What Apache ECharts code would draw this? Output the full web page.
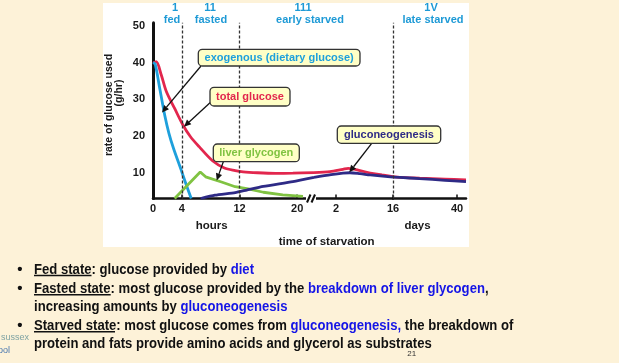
<!DOCTYPE html>
<html><head><meta charset="utf-8">
<script src="https://cdn.jsdelivr.net/npm/echarts@6/dist/echarts.min.js"></script>
<style>html,body{margin:0;padding:0;background:#FDF2D8;}#c{width:619px;height:363px;}</style>
</head><body><div id="c"></div>
<script>
// ---- data ----
const hourTicks = [0, 4, 12, 20];
const dayTicksA = [2];
const dayTicksB = [16, 40];
const yTicks = [10, 20, 30, 40, 50];
const phaseNumerals = ['1', '11', '111', '1V'];
const phaseNames = ['fed', 'fasted', 'early starved', 'late starved'];
const hourBoundaries = [4, 12];
const dayBoundaries = [16];

// [hours, g/hr]
const exogenousHours = [[0,40],[0.3,39.6],[0.93,33],[1.62,25.7],[2.2,20.8],[2.85,16.6],[3.9,10.8],[4.6,6.8],[5.3,3]];
const totalHours = [[0,39.8],[0.45,40.2],[1.15,36.6],[1.85,32.1],[3.0,27.5],[4.15,23.0],[5.2,19.8],[6.4,17.1],[8.3,13.2],[9.9,11.3],[11.4,10.6],[12.5,10.25],[14.5,10.0],[17,9.85],[19.4,9.9],[22.33,10.05]];
const glycogenHours = [[3.0,3],[6.55,10.2],[7.3,8.9],[9.5,7.5],[11.4,6.2],[13.2,5.6],[15.3,4.7],[18,4.0],[20.8,3.6]];
const gluconeoHours = [[6.6,3.0],[8.6,3.9],[11.4,4.6],[13,5.3],[15.3,6.3],[19.4,7.6],[22.33,8.75]];
// [days, g/hr]
const totalDays = [[-3.41,10.05],[0.5,10.3],[3.7,10.95],[5.0,11.2],[7.9,10.6],[10.4,9.9],[13.3,9.4],[16,8.95],[18.6,8.77],[26,8.55],[35.5,8.28],[43.37,8.03]];
const gluconeoDays = [[-3.41,8.75],[0.8,9.5],[3.7,9.9],[5.4,10.0],[7.9,9.75],[10.4,9.4],[16,8.8],[18.6,8.75],[26,8.4],[35.5,7.95],[43.37,7.57]];

// ---- chart ----
const C = {red:'#E2264D', blue:'#1EA0DC', green:'#80C342', navy:'#2E2A86', phase:'#1E9AD6', hl:'#1515E6'};
const FONT = '"Liberation Sans", Arial, sans-serif';
const chart = echarts.init(document.getElementById('c'), null, {renderer:'canvas'});

const gridTop = 22.8, gridH = 175.7;
const grids = [
  {left:153, top:gridTop, width:161, height:gridH},
  {left:314, top:gridTop, width:79, height:gridH},
  {left:393, top:gridTop, width:73, height:gridH}
];
const axLabel = {color:'#1a1a1a', fontWeight:'bold', fontSize:11, fontFamily:FONT, margin:5};
function xAx(gi, min, max, ticks){
  return {type:'value', gridIndex:gi, min, max, splitLine:{show:false},
    axisLine:{show:true, onZero:false, lineStyle:{color:'#111', width:2.5}},
    axisTick:{show:true, inside:true, length:4, customValues:ticks.filter(t=>t>0), lineStyle:{color:'#111', width:1.5}},
    axisLabel:Object.assign({customValues:ticks, showMinLabel:true, showMaxLabel:true}, axLabel)};
}
function yAx(gi, show){
  return {type:'value', gridIndex:gi, min:3, max:50.8, show, splitLine:{show:false},
    axisLine:{show:show, onZero:false, lineStyle:{color:'#111', width:3}},
    axisTick:{show:false},
    axisLabel:Object.assign({customValues:yTicks}, axLabel, {margin:8})};
}
const dashed = {symbol:'none', silent:true, label:{show:false}, lineStyle:{type:[3,2], color:'#333', width:1.3}, animation:false};
function ser(data, color, gi, smooth, extra){
  return Object.assign({type:'line', data, xAxisIndex:gi, yAxisIndex:gi, symbol:'none', smooth, clip:false,
    lineStyle:{color, width:2.8}, z:3}, extra||{});
}
const series = [
  ser(totalHours, C.red, 0, 0.3, {markLine:Object.assign({data:hourBoundaries.map(v=>({xAxis:v}))}, dashed)}),
  ser(exogenousHours, C.blue, 0, 0.25),
  ser(glycogenHours, C.green, 0, false),
  ser(gluconeoHours, C.navy, 0, 0.2),
  ser(totalDays.filter(p=>p[0]<=16), C.red, 1, 0.3),
  ser(gluconeoDays.filter(p=>p[0]<=16), C.navy, 1, 0.3),
  ser(totalDays.filter(p=>p[0]>=16), C.red, 2, 0.3, {markLine:Object.assign({data:dayBoundaries.map(v=>({xAxis:v}))}, dashed)}),
  ser(gluconeoDays.filter(p=>p[0]>=16), C.navy, 2, 0.3)
];

// ---- decorations ----
const g = [];
g.push({type:'rect', z:-10, shape:{x:103, y:3, width:366, height:244}, style:{fill:'#ffffff'}});
function txt(text, x, y, font, fill, extra){
  return Object.assign({type:'text', x, y, z:20, style:{text, x:0, y:0, font, fill, align:'center', verticalAlign:'middle'}}, extra||{});
}
const phaseX = [175, 210, 303, 431], phaseNX = [172, 211, 310, 433];
phaseNumerals.forEach((t,i)=>g.push(txt(t, phaseX[i], 7.5, 'bold 11px '+FONT, C.phase)));
phaseNames.forEach((t,i)=>g.push(txt(t, phaseNX[i], 19.5, 'bold 11px '+FONT, C.phase)));
g.push(txt('rate of glucose used', 109, 105, 'bold 10.5px '+FONT, '#1a1a1a', {rotation:Math.PI/2}));
g.push(txt('(g/hr)', 119, 93, 'bold 10.5px '+FONT, '#1a1a1a', {rotation:Math.PI/2}));
g.push(txt('hours', 211.7, 226, 'bold 11.5px '+FONT, '#1a1a1a'));
g.push(txt('days', 417.5, 226, 'bold 11.5px '+FONT, '#1a1a1a'));
g.push(txt('time of starvation', 326.7, 241.5, 'bold 11.5px '+FONT, '#1a1a1a'));

// axis break
g.push({type:'rect', z:15, shape:{x:306, y:194.5, width:10, height:8}, style:{fill:'#fff'}});
g.push({type:'line', z:16, shape:{x1:307, y1:202.5, x2:310.5, y2:194.5}, style:{stroke:'#111', lineWidth:2}});
g.push({type:'line', z:16, shape:{x1:311.5, y1:202.5, x2:315, y2:194.5}, style:{stroke:'#111', lineWidth:2}});

function arrow(x1,y1,x2,y2){
  const a = Math.atan2(y2-y1, x2-x1), L=7, W=3.2;
  const bx = x2-L*Math.cos(a), by = y2-L*Math.sin(a);
  const px = -Math.sin(a)*W, py = Math.cos(a)*W;
  g.push({type:'line', z:18, shape:{x1,y1,x2:bx,y2:by}, style:{stroke:'#111', lineWidth:1.3}});
  g.push({type:'polygon', z:18, shape:{points:[[x2,y2],[bx+px,by+py],[bx-px,by-py]]}, style:{fill:'#111'}});
}
function box(x,y,w,h,text,color){
  g.push({type:'rect', z:19, shape:{x,y,width:w,height:h,r:4}, style:{fill:'#FFFFC6', stroke:'#333', lineWidth:1.3}});
  g.push(txt(text, x+w/2, y+h/2+0.5, 'bold 11px '+FONT, color));
}
arrow(201,66,162,112.5);
arrow(213,100,184,126.7);
arrow(223.3,161.7,216.7,180.5);
arrow(371.7,143.3,349.3,172.3);
box(198.3,49.3,161.7,16.7,'exogenous (dietary glucose)',C.blue);
box(210,87.3,80,18.7,'total glucose',C.red);
box(213.3,144,86,17.7,'liver glycogen',C.green);
box(337.3,126,103.4,17.3,'gluconeogenesis',C.navy);

// bullets
const BF = 'bold 15px '+FONT, SX = 0.874;
const rich = {u:{font:BF, fill:'#111'}, b:{font:BF, fill:C.hl}, n:{font:BF, fill:'#111'}};
const lines = [
  [270, '{n|Fed state: glucose provided by }{b|diet}', true],
  [289.3, '{n|Fasted state: most glucose provided by the }{b|breakdown of liver glycogen}{n|,}', true],
  [306.7, '{n|increasing amounts by }{b|gluconeogenesis}', false],
  [326, '{n|Starved state: most glucose comes from }{b|gluconeogenesis,}{n| the breakdown of}', true],
  [344.3, '{n|protein and fats provide amino acids and glycerol as substrates}', false]
];
lines.forEach(([y,t,bul])=>{
  if (bul) g.push(txt('•', 20, y, BF, '#111'));
  g.push({type:'text', x:34, y, scaleX:SX, z:20, style:{text:t, rich, x:0, y:0, font:BF, fill:'#111', align:'left', verticalAlign:'middle'}});
});
[[275.5,91.5],[294.7,110.7],[331.7,115]].forEach(([y,x2])=>g.push({type:'line', z:20, shape:{x1:34,y1:y,x2,y2:y}, style:{stroke:'#111', lineWidth:1.5}}));
g.push(txt('sussex', 15, 337.5, '9px '+FONT, '#7FA3A3'));
g.push(txt('ool', 4, 351, '9px '+FONT, '#4A78B0'));
g.push(txt('21', 411.7, 353.5, '8px '+FONT, '#333'));

chart.setOption({
  animation:false,
  backgroundColor:'#FDF2D8',
  grid:grids,
  xAxis:[xAx(0,0,22.33,hourTicks), xAx(1,-3.41,16,dayTicksA), xAx(2,16,43.37,dayTicksB)],
  yAxis:[yAx(0,true), yAx(1,false), yAx(2,false)],
  series,
  graphic:{elements:g}
});
</script></body></html>
